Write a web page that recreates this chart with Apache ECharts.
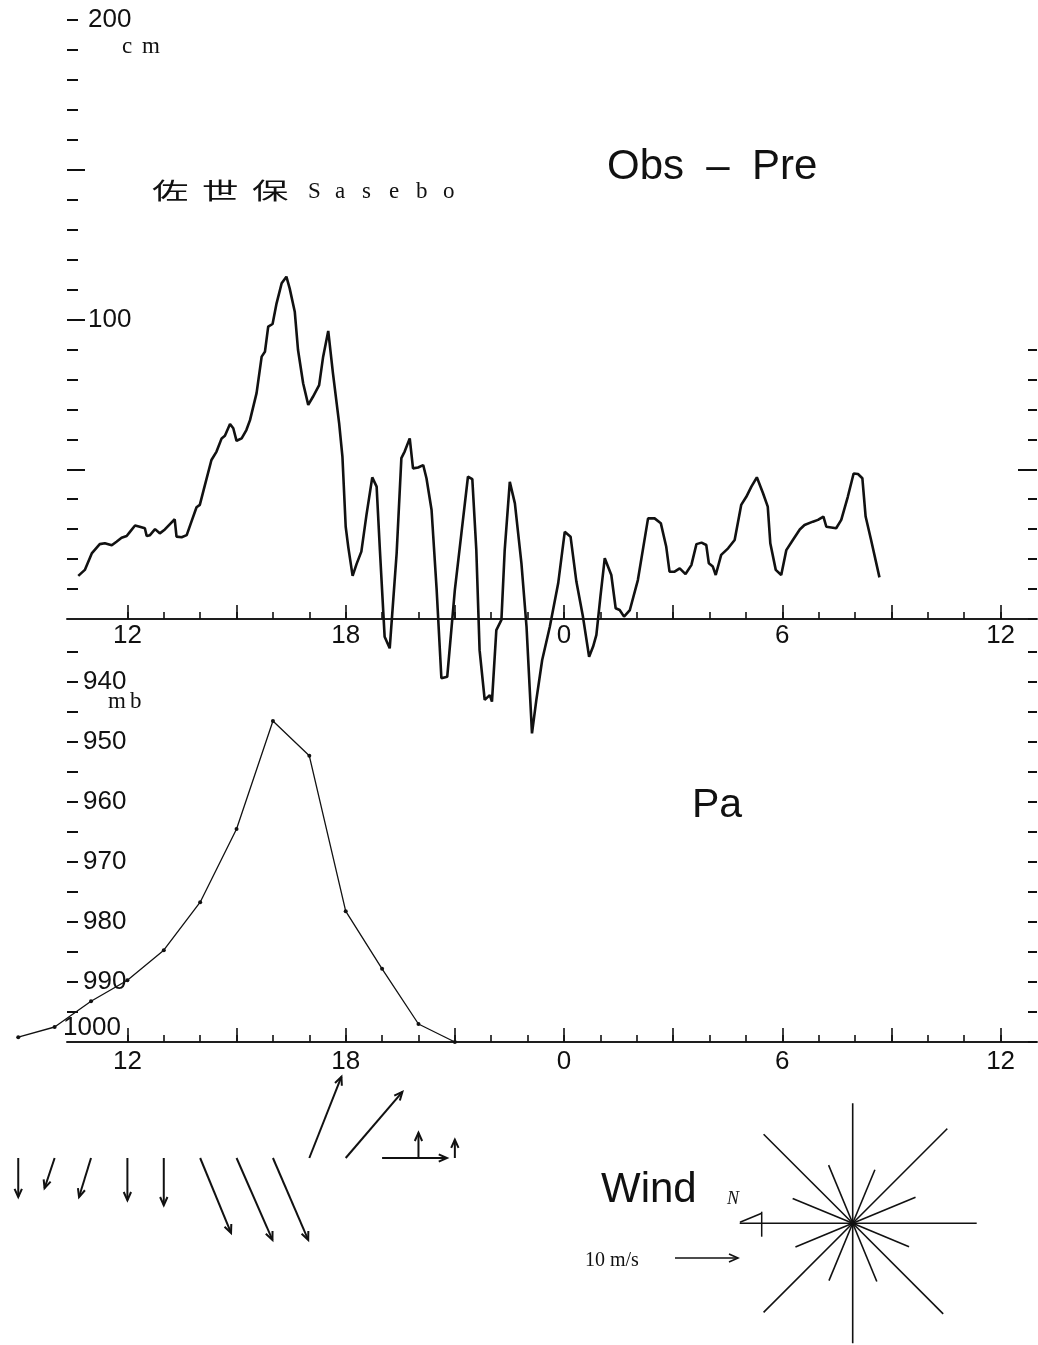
<!DOCTYPE html>
<html><head><meta charset="utf-8">
<script src="https://cdn.jsdelivr.net/npm/echarts@6/dist/echarts.min.js"></script>
<style>html,body{margin:0;padding:0;background:#fff}#c{width:1038px;height:1345px}</style>
</head><body><div id="c"></div>
<script>
// ---------- DATA ----------
// Obs - Pre anomaly at Sasebo (hours, 12 = noon day 1, 24 = midnight)
const ANOM_HOURS = [10.65,10.83,11.02,11.24,11.38,11.57,11.70,11.84,11.98,12.07,12.21,12.34,12.48,12.53,12.62,12.76,12.89,13.03,13.17,13.30,13.35,13.49,13.63,13.76,13.90,13.99,14.13,14.31,14.45,14.59,14.68,14.82,14.91,15.00,15.14,15.27,15.37,15.55,15.69,15.78,15.87,15.99,16.10,16.24,16.37,16.46,16.60,16.69,16.83,16.97,17.10,17.27,17.38,17.52,17.65,17.82,17.91,18.00,18.07,18.19,18.30,18.43,18.57,18.73,18.85,18.94,19.07,19.21,19.40,19.53,19.62,19.76,19.85,19.99,20.13,20.22,20.36,20.50,20.63,20.79,21.00,21.18,21.36,21.48,21.59,21.68,21.82,21.96,22.02,22.14,22.28,22.37,22.51,22.65,22.83,22.97,23.12,23.24,23.40,23.61,23.84,24.02,24.18,24.34,24.52,24.69,24.80,24.89,25.00,25.12,25.30,25.42,25.53,25.65,25.81,26.03,26.31,26.49,26.66,26.81,26.90,27.04,27.18,27.34,27.50,27.64,27.78,27.91,27.98,28.09,28.17,28.32,28.51,28.69,28.87,29.01,29.15,29.30,29.47,29.60,29.67,29.82,29.97,30.11,30.29,30.48,30.61,30.84,30.98,31.13,31.21,31.48,31.62,31.80,31.96,32.08,32.20,32.29,32.44,32.67];
const ANOM_CM = [14.4,16.4,21.9,25,25.3,24.6,25.8,27.1,27.7,29.1,31.2,30.8,30.3,27.7,28,30,28.6,29.9,31.7,33.3,27.5,27.3,28,32.5,37.3,38.1,44.7,53.1,55.9,60.3,61.2,65.1,63.7,59.5,60.3,63.1,66.4,75.4,87.6,89.2,97.6,98.5,105.4,112.1,114.3,110.4,102.6,89.8,78.7,71.5,74.2,78.1,87.6,96.2,82,65.3,54.2,30.8,24.1,14.4,18.4,22.5,34.7,47.3,44.2,23,-5.9,-9.8,21.9,53.7,55.9,60.3,50.3,50.6,51.4,47,36.4,9.7,-19.8,-19.3,9.7,28.6,47.5,46.7,23,-10.4,-27,-25.4,-27.6,-3.7,-0.3,23,45.8,38.6,18.6,-2.6,-38.2,-27,-13.7,-2.6,11.9,29.1,27.5,12.5,0.8,-12.6,-9.2,-5.3,7.4,20.3,14.7,3.6,3,0.8,3,13,33.6,33.6,32,24.1,15.8,15.8,16.9,15,18,25,25.5,24.7,18.6,17.5,14.7,21.4,23.6,26.4,38.1,40.8,44.2,47.3,42,37.5,25.3,16.4,14.7,23,26.4,29.9,31.4,32.5,33.1,34.2,30.8,30.3,33.1,40.8,48.6,48.4,47,34.2,26.4,13.9];

// Air pressure Pa (mb), hourly
const PA_HOURS = [9,10,11,12,13,14,15,16,17,18,19,20,21];
const PA_MB    = [999.2,997.5,993.2,989.7,984.7,976.7,964.5,946.5,952.3,978.2,987.8,997.0,1000];

// Wind vectors (m/s), u eastward, v northward
const WIND_HOURS = [9,10,11,12,13,14,15,16,17,18,19,20,21];
const WIND_U = [0,-1.6,-1.9,0,0,4.9,5.7,5.6,5.1,9.0,10.3,0,0];
const WIND_V = [-6.2,-4.8,-6.2,-6.7,-7.5,-11.9,-13.0,-13.0,12.9,10.5,0,4.0,2.9];
const WIND_LEGEND_MS = 10;

// Direction rose (deg clockwise from top) and spoke lengths
const ROSE_DIR = [0,22.5,45,67.5,90,112.5,135,157.5,180,202.5,225,247.5,270,292.5,315,337.5];
const ROSE_LEN = [120,58,134,68,124,61,128,63,120,62,126,62,113,65,126,63];

// Tick labels
const X_LABEL_HOURS = [12,18,24,30,36];
const CM_LABELS = [100,200];
const MB_LABELS = [940,950,960,970,980,990];

// ---------- CHART ----------
const INK = '#111';
const NUM_FONT = '"Liberation Sans", Arial, Helvetica, sans-serif';
const SERIF = '"Liberation Serif", "DejaVu Serif", serif';
const X_MIN = 10.34, X_MAX = 37;
const LEFT = 67, WIDTH = 970;
const PX_PER_HR = WIDTH / (X_MAX - X_MIN);
const X_MIN_WIDE = 8.8;                       // wider grid for marks left of the axis
const LEFT_WIDE = LEFT - (X_MIN - X_MIN_WIDE) * PX_PER_HR;
const WIDTH_WIDE = WIDTH + (X_MIN - X_MIN_WIDE) * PX_PER_HR;
const WPX = 6.3; // px per m/s

function range(a, b, s) { const r = []; for (let v = a; v <= b + 1e-9; v += s) r.push(+v.toFixed(3)); return r; }
const hourTicks = range(12, 36, 1);
const hour3Ticks = range(12, 36, 3);

function xAxes(gridIndex, margin) {
  const base = {type:'value', gridIndex, min:X_MIN, max:X_MAX, position:'bottom', splitLine:{show:false}};
  return [
    Object.assign({}, base, {
      axisLine:{show:true, onZero:false, lineStyle:{color:INK, width:1.6}},
      axisTick:{show:true, inside:true, length:7, customValues:hourTicks, lineStyle:{color:INK, width:1.6}},
      axisLabel:{show:true, customValues:X_LABEL_HOURS, formatter:v => String(((Math.round(v) % 24) + 24) % 24),
                 color:INK, fontSize:26, fontFamily:NUM_FONT, margin}
    }),
    Object.assign({}, base, {
      axisLine:{show:true, onZero:false, lineStyle:{color:INK, width:1.6}},
      axisTick:{show:true, inside:true, length:14, customValues:hour3Ticks, lineStyle:{color:INK, width:1.6}},
      axisLabel:{show:false}
    })
  ];
}

function yAx(o) {
  return Object.assign({type:'value', splitLine:{show:false}, axisLine:{show:false}}, o);
}
const tickStyle = {color:INK, width:2};

const cmShort = range(10, 200, 10).filter(v => v % 50 !== 0 || v === 200);
const cmLong = [50,100,150];
const cmRightShort = range(0, 90, 10).filter(v => v !== 50);
const mbLeftTicks = range(935, 995, 5);
const mbRightTicks = range(935, 1000, 5);

const option = {
  backgroundColor:'#fff',
  animation:false,
  grid:[
    {left:LEFT, width:WIDTH, top:20, height:599},            // 0: Obs - Pre (cm), 0..200
    {left:LEFT, width:WIDTH, top:652, height:390},           // 1: Pa axes (mb), 935..1000
    {left:LEFT_WIDE, width:WIDTH_WIDE, top:1157, height:2},  // 2: wind base line
    {left:LEFT_WIDE, width:WIDTH_WIDE, top:682, height:360}  // 3: Pa data (mb), 940..1000, same scale
  ],
  xAxis: [].concat(xAxes(0, 4), xAxes(1, 7), [
    {type:'value', gridIndex:2, min:X_MIN_WIDE, max:X_MAX, show:false, splitLine:{show:false}},
    {type:'value', gridIndex:3, min:X_MIN_WIDE, max:X_MAX, show:false, splitLine:{show:false}}
  ]),
  yAxis:[
    yAx({gridIndex:0, position:'left', min:0, max:200,
         axisTick:{show:true, inside:true, length:11, customValues:cmShort, lineStyle:tickStyle},
         axisLabel:{show:true, inside:true, customValues:CM_LABELS, margin:21, color:INK, fontSize:26, fontFamily:NUM_FONT}}),
    yAx({gridIndex:0, position:'left', min:0, max:200,
         axisTick:{show:true, inside:true, length:18, customValues:cmLong, lineStyle:tickStyle},
         axisLabel:{show:false}}),
    yAx({gridIndex:0, position:'right', min:0, max:200,
         axisTick:{show:true, inside:true, length:9, customValues:cmRightShort, lineStyle:tickStyle},
         axisLabel:{show:false}}),
    yAx({gridIndex:0, position:'right', min:0, max:200,
         axisTick:{show:true, inside:true, length:19, customValues:[50], lineStyle:tickStyle},
         axisLabel:{show:false}}),
    yAx({gridIndex:1, position:'left', min:935, max:1000, inverse:true,
         axisTick:{show:true, inside:true, length:11, customValues:mbLeftTicks, lineStyle:tickStyle},
         axisLabel:{show:true, inside:true, customValues:MB_LABELS, margin:16, color:INK, fontSize:26, fontFamily:NUM_FONT}}),
    yAx({gridIndex:1, position:'right', min:935, max:1000, inverse:true,
         axisTick:{show:true, inside:true, length:9, customValues:mbRightTicks, lineStyle:tickStyle},
         axisLabel:{show:false}}),
    yAx({gridIndex:2, min:-1, max:1, show:false}),
    yAx({gridIndex:3, min:940, max:1000, inverse:true, show:false})
  ],
  polar:{center:[852.7, 1223.3], radius:134},
  angleAxis:{type:'value', min:0, max:360, startAngle:90, clockwise:true, show:false, splitLine:{show:false}},
  radiusAxis:{type:'value', min:0, max:134, show:false, splitLine:{show:false}},
  series:[
    {type:'line', xAxisIndex:0, yAxisIndex:0, clip:false, symbol:'none',
     data:ANOM_HOURS.map((h, i) => [h, ANOM_CM[i]]),
     lineStyle:{color:INK, width:2.6}, z:5},
    {type:'line', xAxisIndex:5, yAxisIndex:7, clip:false, symbol:'circle', symbolSize:4,
     data:PA_HOURS.map((h, i) => [h, PA_MB[i]]),
     itemStyle:{color:INK}, lineStyle:{color:INK, width:1.3}, z:5},
    {type:'custom', xAxisIndex:4, yAxisIndex:6, clip:false,
     data:WIND_HOURS.map((h, i) => [h, WIND_U[i], WIND_V[i]]),
     renderItem:(params, api) => {
       const h = api.value(0), u = api.value(1), v = api.value(2);
       const b = api.coord([h, 0]);
       const t = [b[0] + u * WPX, b[1] - v * WPX];
       const a = Math.atan2(t[1] - b[1], t[0] - b[0]);
       const hl = 9, ha = 0.42;
       const p1 = [t[0] - hl * Math.cos(a - ha), t[1] - hl * Math.sin(a - ha)];
       const p2 = [t[0] - hl * Math.cos(a + ha), t[1] - hl * Math.sin(a + ha)];
       return {type:'group', children:[
         {type:'line', shape:{x1:b[0], y1:b[1], x2:t[0], y2:t[1]}, style:{stroke:INK, lineWidth:2}},
         {type:'polyline', shape:{points:[p1, t, p2]}, style:{stroke:INK, lineWidth:2, fill:null}}
       ]};
     }}
  ].concat(ROSE_DIR.map((d, i) => ({
    type:'line', coordinateSystem:'polar', symbol:'none', silent:true,
    data:[[0, d], [ROSE_LEN[i], d]],
    lineStyle:{color:INK, width:1.6}
  }))),
  graphic:[
    {type:'text', x:607, y:167, style:{text:'{a|Obs}{d|–}{a|Pre}', textVerticalAlign:'middle', verticalAlign:'middle',
      rich:{a:{fontSize:42, fontFamily:NUM_FONT, fill:INK, color:INK},
            d:{fontSize:42, fontFamily:NUM_FONT, width:68, align:'center', fill:INK, color:INK}}}},
    {type:'text', x:692, y:806, style:{text:'Pa', font:'41px ' + NUM_FONT, fill:INK, textVerticalAlign:'middle', verticalAlign:'middle'}},
    {type:'text', x:601, y:1190, style:{text:'Wind', font:'42px ' + NUM_FONT, fill:INK, textVerticalAlign:'middle', verticalAlign:'middle'}},
    {type:'text', x:152, y:190, scaleX:1.3, scaleY:0.82, style:{text:'{k|佐}{k|世}{k|保}', textVerticalAlign:'middle', verticalAlign:'middle',
      rich:{k:{width:38.5, fontSize:28, fontFamily:'"Noto Sans CJK JP"', fill:INK, color:INK}}}},
    {type:'text', x:308, y:192, style:{text:'{s|S}{s|a}{s|s}{s|e}{s|b}{s|o}', textVerticalAlign:'middle', verticalAlign:'middle',
      rich:{s:{width:27, fontSize:23, fontFamily:SERIF, fill:INK, color:INK}}}},
    {type:'text', x:122, y:47, style:{text:'{s|c}{s|m}', textVerticalAlign:'middle', verticalAlign:'middle',
      rich:{s:{width:20, fontSize:23, fontFamily:SERIF, fill:INK, color:INK}}}},
    {type:'text', x:108, y:702, style:{text:'{s|m}{s|b}', textVerticalAlign:'middle', verticalAlign:'middle',
      rich:{s:{width:22, fontSize:23, fontFamily:SERIF, fill:INK, color:INK}}}},
    {type:'text', x:63, y:1028, style:{text:'1000', font:'26px ' + NUM_FONT, fill:INK, textVerticalAlign:'middle', verticalAlign:'middle'}},
    {type:'text', x:585, y:1261, style:{text:'10 m/s', font:'20px ' + SERIF, fill:INK, textVerticalAlign:'middle', verticalAlign:'middle'}},
    {type:'text', x:727, y:1199, style:{text:'N', font:'italic 18px ' + SERIF, fill:INK, textVerticalAlign:'middle', verticalAlign:'middle'}},
    // legend arrow: 10 m/s
    {type:'line', shape:{x1:675, y1:1258, x2:675 + WIND_LEGEND_MS * WPX, y2:1258}, style:{stroke:INK, lineWidth:1.6}},
    {type:'polyline', shape:{points:[[675 + WIND_LEGEND_MS * WPX - 9, 1254], [675 + WIND_LEGEND_MS * WPX, 1258], [675 + WIND_LEGEND_MS * WPX - 9, 1262]]}, style:{stroke:INK, lineWidth:1.6, fill:null}},
    // north flag on the rose
    {type:'polyline', shape:{points:[[740, 1222.3], [761.7, 1213.3]]}, style:{stroke:INK, lineWidth:1.5, fill:null}},
    {type:'line', shape:{x1:761.7, y1:1211.7, x2:761.7, y2:1236.7}, style:{stroke:INK, lineWidth:1.5}}
  ]
};

const chart = echarts.init(document.getElementById('c'));
chart.setOption(option);
</script>
</body></html>
